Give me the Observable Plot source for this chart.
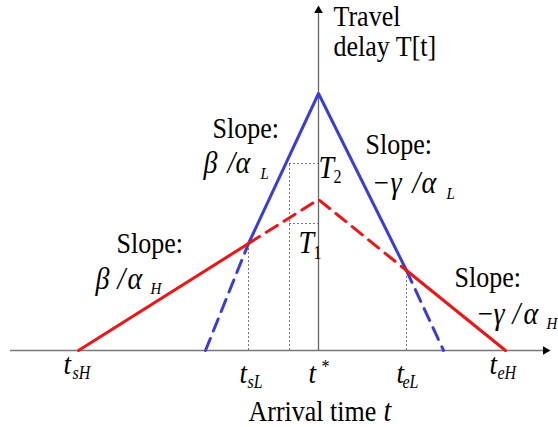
<!DOCTYPE html>
<html>
<head>
<meta charset="utf-8">
<script src="https://cdn.jsdelivr.net/npm/d3@7"></script>
<script src="https://cdn.jsdelivr.net/npm/@observablehq/plot@0.6"></script>
<style>
  html, body { margin: 0; padding: 0; background: #fff; }
  svg { display: block; }
</style>
</head>
<body>
<div id="chart"></div>
<script>
// ---- Data (abstract units: t relative to t*, T = travel delay) ----
const blueSolid  = [[-70, 107], [0, 257], [88, 80]];
const blueDashL  = [[-113, 0], [-70, 107]];
const blueDashR  = [[88, 80], [125, 0]];
const redSolidL  = [[-240, 0], [-70, 107]];
const redSolidR  = [[88, 80], [187, 0]];
const redDashed  = [[-70, 107], [0, 151], [88, 80]];

// tick labels on the arrival-time axis
const tickT      = [-240, -70, 0, 88, 187];
const tickTOff   = [-15, -9, -10, -10, -16];
const tickSubOff = [-6, -1, 3, -4, -8];
const tickBase   = [-23, -32, -32, -32, -23];
const tickSubs   = ["sH", "sL", "*", "eL", "eH"];

// dotted guide lines
const guideX     = [-70, -29, 88];
const guideTop   = [107, 187, 80];
const levelT     = [187, 127];
const levelFrom  = -29;

// axis extents
const xAxisFrom = -308, xAxisTo = 227, yAxisTo = 340;

// plain annotation texts
const plainText  = ["Travel", "delay T[t]", "Slope:", "Slope:", "Slope:", "Slope:", "Arrival time"];
const plainX     = [15, 15, -106, 47, -202, 136, -70];
const plainY     = [325, 295, 213, 197, 98, 64, -70];

// italic math glyphs of the slope formulas
const glyphText  = ["β", "/", "α",  "γ", "/", "α",  "β", "/", "α",  "γ", "/", "α",  "T", "T", "t"];
const glyphX     = [-115, -91, -83,  72, 94, 103,  -223, -201, -191,  175, 194, 205,  0, -20, 65];
const glyphY     = [178, 178, 178,  158, 158, 158,  62, 62, 62,  27, 27, 27,  173, 98, -70];

const minusX     = [55, 159];
const minusY     = [158, 27];

const subText    = ["L", "L", "H", "H"];
const subX       = [-58, 128, -168, 228];
const subY       = [172, 152, 57, 22];

const numSubText = ["2", "1"];
const numSubX    = [15, -5];
const numSubY    = [168, 92];

const seg = (pts) => pts.map(([t, v]) => ({t, v}));
const serif = "Liberation Serif, Times New Roman, serif";
const blue = "#3c3cdc", red = "#f01414";

const ticks = tickT.map((t, i) => ({t, off: tickTOff[i], soff: tickSubOff[i], base: tickBase[i], sub: tickSubs[i]}));
const txt = {textAnchor: "start", lineAnchor: "bottom", fill: "black", fontFamily: serif};

const chart = Plot.plot({
  width: 558,
  height: 427,
  x: {domain: [-318, 240], range: [0, 558]},
  y: {domain: [0, 350], range: [350, 0]},
  axis: null,
  style: {background: "#fff", overflow: "visible"},
  marks: [
    // axes
    Plot.ruleY([0], {x1: xAxisFrom, x2: xAxisTo, stroke: "#777", strokeWidth: 1.5}),
    Plot.ruleX([0], {y1: 0, y2: yAxisTo, stroke: "#666", strokeWidth: 1.3}),
    Plot.dot([{t: xAxisTo, v: 0}], {x: "t", y: "v", symbol: "triangle", rotate: 90, r: 3.2, fill: "black", stroke: null}),
    Plot.dot([{t: 0, v: yAxisTo}], {x: "t", y: "v", symbol: "triangle", r: 3.2, fill: "black", stroke: null}),
    // dotted guides
    Plot.ruleX(guideX.map((t, i) => ({t, top: guideTop[i]})), {x: "t", y1: 0, y2: "top", stroke: "#555", strokeWidth: 0.8, strokeDasharray: "2,2"}),
    Plot.ruleY(levelT, {y: d => d, x1: levelFrom, x2: 0, stroke: "#555", strokeWidth: 0.8, strokeDasharray: "2,2"}),
    // blue curve
    Plot.line(seg(blueDashL), {x: "t", y: "v", stroke: blue, strokeWidth: 3, strokeDasharray: "13,8"}),
    Plot.line(seg(blueDashR), {x: "t", y: "v", stroke: blue, strokeWidth: 3, strokeDasharray: "13,8"}),
    Plot.line(seg(blueSolid), {x: "t", y: "v", stroke: blue, strokeWidth: 3}),
    // red curve
    Plot.line(seg(redDashed), {x: "t", y: "v", stroke: red, strokeWidth: 3, strokeDasharray: "13,8"}),
    Plot.line(seg(redSolidL), {x: "t", y: "v", stroke: red, strokeWidth: 3}),
    Plot.line(seg(redSolidR), {x: "t", y: "v", stroke: red, strokeWidth: 3}),
    // tick labels
    Plot.text(ticks, {...txt, x: d => d.t + d.off, y: "base", text: () => "t", fontStyle: "italic", fontSize: 27}),
    Plot.text(ticks.filter(d => d.sub !== "*"), {...txt, x: d => d.t + d.soff, y: d => d.base - 5, text: "sub", fontStyle: "italic", fontSize: 16}),
    Plot.text(ticks.filter(d => d.sub === "*"), {...txt, x: d => d.t + d.soff, y: -22, text: "sub", fontSize: 16}),
    // annotations
    Plot.text(plainText.map((s, i) => ({s, x: plainX[i], y: plainY[i]})), {...txt, x: "x", y: "y", text: "s", fontSize: 26}),
    Plot.text(glyphText.map((s, i) => ({s, x: glyphX[i], y: glyphY[i]})), {...txt, x: "x", y: "y", text: "s", fontStyle: "italic", fontSize: 28}),
    Plot.text(minusX.map((x, i) => ({x, y: minusY[i]})), {...txt, x: "x", y: "y", text: () => "−", fontSize: 27}),
    Plot.text(subText.map((s, i) => ({s, x: subX[i], y: subY[i]})), {...txt, x: "x", y: "y", text: "s", fontStyle: "italic", fontSize: 15}),
    Plot.text(numSubText.map((s, i) => ({s, x: numSubX[i], y: numSubY[i]})), {...txt, x: "x", y: "y", text: "s", fontSize: 16})
  ]
});

// the reference's lettering is slightly taller than it is wide: stretch glyphs upward from their baselines
d3.select(chart).selectAll("text").each(function() {
  const tr = this.getAttribute("transform");
  if (tr) {
    this.setAttribute("transform", tr + " scale(1,1.12)");
  } else {
    const x = +this.getAttribute("x") || 0, y = +this.getAttribute("y") || 0;
    this.setAttribute("transform", `translate(${x},${y}) scale(1,1.12)`);
    this.setAttribute("x", 0);
    this.setAttribute("y", 0);
  }
});
document.getElementById("chart").appendChild(chart);
</script>
</body>
</html>
